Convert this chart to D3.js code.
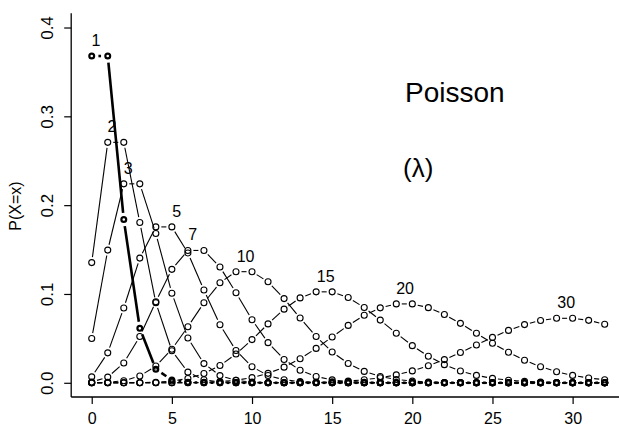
<!DOCTYPE html>
<html><head><meta charset="utf-8">
<script src="https://cdn.jsdelivr.net/npm/d3@7"></script>
<style>
html,body{margin:0;padding:0;background:#fff;}
svg{display:block;font-family:"Liberation Sans",Arial,sans-serif;}
</style></head>
<body>
<svg id="c" width="619" height="428"></svg>
<script>
// ---- data ----
const xValues = [0,1,2,3,4,5,6,7,8,9,10,11,12,13,14,15,16,17,18,19,20,21,22,23,24,25,26,27,28,29,30,31,32];
const lambdas = [1,2,3,5,7,10,15,20,30];
const p1  = [0.3679,0.3679,0.1839,0.0613,0.0153,0.0031,0.0005,0.0001,0,0,0,0,0,0,0,0,0,0,0,0,0,0,0,0,0,0,0,0,0,0,0,0,0];
const p2  = [0.1353,0.2707,0.2707,0.1804,0.0902,0.0361,0.0120,0.0034,0.0009,0.0002,0,0,0,0,0,0,0,0,0,0,0,0,0,0,0,0,0,0,0,0,0,0,0];
const p3  = [0.0498,0.1494,0.2240,0.2240,0.1680,0.1008,0.0504,0.0216,0.0081,0.0027,0.0008,0.0002,0.0001,0,0,0,0,0,0,0,0,0,0,0,0,0,0,0,0,0,0,0,0];
const p5  = [0.0067,0.0337,0.0842,0.1404,0.1755,0.1755,0.1462,0.1044,0.0653,0.0363,0.0181,0.0082,0.0034,0.0013,0.0005,0.0002,0,0,0,0,0,0,0,0,0,0,0,0,0,0,0,0,0];
const p7  = [0.0009,0.0064,0.0223,0.0521,0.0912,0.1277,0.1490,0.1490,0.1304,0.1014,0.0710,0.0452,0.0263,0.0142,0.0071,0.0033,0.0014,0.0006,0.0002,0.0001,0,0,0,0,0,0,0,0,0,0,0,0,0];
const p10 = [0.0000,0.0005,0.0023,0.0076,0.0189,0.0378,0.0631,0.0901,0.1126,0.1251,0.1251,0.1137,0.0948,0.0729,0.0521,0.0347,0.0217,0.0128,0.0071,0.0037,0.0019,0.0009,0.0004,0.0002,0.0001,0,0,0,0,0,0,0,0];
const p15 = [0,0,0,0.0002,0.0006,0.0019,0.0048,0.0104,0.0194,0.0324,0.0486,0.0663,0.0829,0.0956,0.1024,0.1024,0.0960,0.0847,0.0706,0.0557,0.0418,0.0299,0.0204,0.0133,0.0083,0.0050,0.0029,0.0016,0.0009,0.0004,0.0002,0.0001,0.0001];
const p20 = [0,0,0,0,0,0.0001,0.0002,0.0005,0.0013,0.0029,0.0058,0.0106,0.0176,0.0271,0.0387,0.0516,0.0646,0.0760,0.0844,0.0888,0.0888,0.0846,0.0769,0.0669,0.0557,0.0446,0.0343,0.0254,0.0181,0.0125,0.0083,0.0054,0.0034];
const p30 = [0,0,0,0,0,0,0,0,0,0,0,0,0.0001,0.0002,0.0005,0.0010,0.0019,0.0034,0.0057,0.0089,0.0134,0.0192,0.0261,0.0341,0.0426,0.0511,0.0590,0.0655,0.0702,0.0726,0.0726,0.0703,0.0659];
const seriesValues = [p1,p2,p3,p5,p7,p10,p15,p20,p30];
const labelAt = [0.27,1.27,2.27,5.3,6.3,9.6,14.6,19.55,29.6];
const xTicks = [0,5,10,15,20,25,30];
const yTicks = [0.0,0.1,0.2,0.3,0.4];
const yTickLabels = ["0.0","0.1","0.2","0.3","0.4"];
const title = "Poisson";
const subtitle = "(\u03BB)";
const yLabel = "P(X=x)";

// ---- drawing ----
const svg = d3.select("#c");
const x = d3.scaleLinear().domain([-1.28, 33.28]).range([71.2, 625.2]);
const y = d3.scaleLinear().domain([-0.016, 0.416]).range([397, 13.3]);

// axes (L-shaped)
const xAxis = d3.axisBottom(x).tickValues(xTicks).tickSize(7).tickPadding(4).tickFormat(d3.format("d"));
const gx = svg.append("g").attr("transform", `translate(0,${y.range()[0]})`).call(xAxis);
gx.select(".domain").attr("d", `M${x.range()[0]},0H${x.range()[1]}`).attr("stroke","#000").attr("stroke-width",1.3);
gx.selectAll(".tick line").attr("stroke","#000").attr("stroke-width",1.2);
gx.selectAll(".tick text").attr("font-size",16).attr("font-family","Liberation Sans, Arial, sans-serif").attr("fill","#000").attr("dy","0.98em");

const yAxis = d3.axisLeft(y).tickValues(yTicks).tickSize(7).tickFormat((d,i)=>yTickLabels[i]);
const gy = svg.append("g").attr("transform", `translate(${x.range()[0]},0)`).call(yAxis);
gy.select(".domain").attr("d", `M0,${y.range()[0]}V${y.range()[1]}`).attr("stroke","#000").attr("stroke-width",1.3);
gy.selectAll(".tick line").attr("stroke","#000").attr("stroke-width",1.2);
gy.selectAll(".tick text").remove();
gy.selectAll(".tick").append("text")
  .attr("transform","translate(-24.5,0) rotate(-90)")
  .attr("text-anchor","middle").attr("dy","0.36em")
  .attr("font-size",17).attr("fill","#000")
  .attr("font-family","Liberation Sans, Arial, sans-serif")
  .text((d,i)=>yTickLabels[i]);

svg.append("text").attr("transform","translate(21,206) rotate(-90)")
  .attr("text-anchor","middle").attr("font-size",16).attr("fill","#000").text(yLabel);

// series: R type="b" style (lines with gaps around points)
const gap = 5.5;
seriesValues.forEach((vals, si) => {
  const thick = si === 0;
  const pts = xValues.map((xv,i)=>[x(xv), y(vals[i])]);
  const g = svg.append("g");
  const g2 = thick ? gap + 1.2 : gap;
  for (let i=0;i<pts.length-1;i++){
    const [x0,y0]=pts[i],[x1,y1]=pts[i+1];
    const dx=x1-x0, dy=y1-y0, L=Math.hypot(dx,dy);
    if (L <= 2*g2) continue;
    const ux=dx/L, uy=dy/L;
    g.append("line")
      .attr("x1",x0+ux*g2).attr("y1",y0+uy*g2)
      .attr("x2",x1-ux*g2).attr("y2",y1-uy*g2)
      .attr("stroke","#000").attr("stroke-width", thick?2.6:1.1);
  }
  g.selectAll("circle").data(pts).join("circle")
    .attr("cx",d=>d[0]).attr("cy",d=>d[1])
    .attr("r", thick?2.4:3)
    .attr("fill", thick?"#fff":"none")
    .attr("stroke","#000").attr("stroke-width", thick?2.2:1.1);
  // label
  const peak = d3.max(vals);
  svg.append("text")
    .attr("x", x(labelAt[si])).attr("y", y(peak) - 10)
    .attr("text-anchor","middle").attr("font-size",16).attr("fill","#000")
    .text(lambdas[si]);
});

svg.append("text").attr("x",405).attr("y",102).attr("font-size",28).attr("fill","#000").text(title);
svg.append("text").attr("x",403).attr("y",177).attr("font-size",26).attr("fill","#000").text(subtitle);
</script>
</body></html>
